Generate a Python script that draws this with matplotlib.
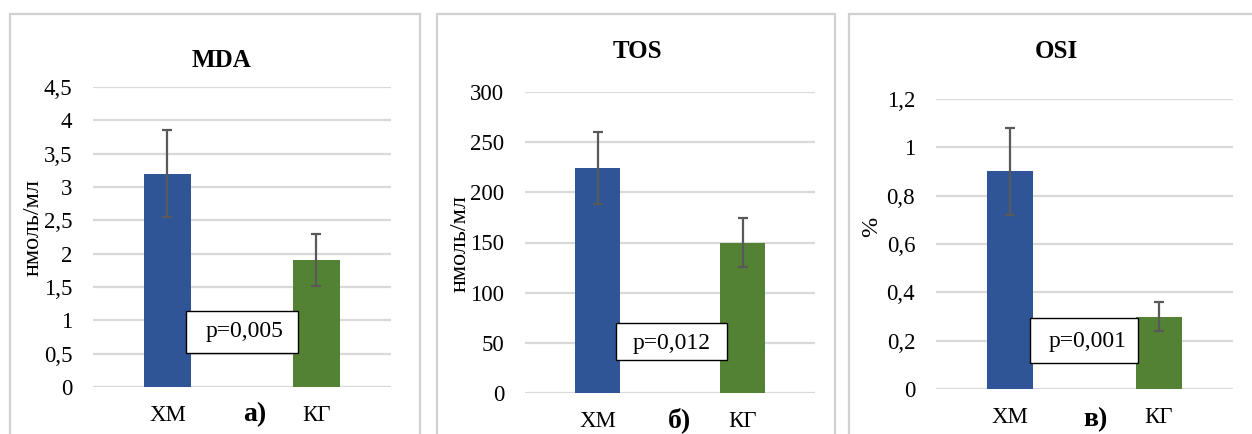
import matplotlib
matplotlib.use("Agg")
import matplotlib.pyplot as plt
from matplotlib.patches import Rectangle
from matplotlib.ticker import FuncFormatter, MultipleLocator

plt.rcParams['font.family'] = ['Liberation Serif', 'DejaVu Serif']

categories = ["ХМ", "КГ"]
titles = ["MDA", "TOS", "OSI"]
ylabels = ["нмоль/мл", "нмоль/мл", "%"]
letters = ["а)", "б)", "в)"]
p_texts = ["p=0,005", "p=0,012", "p=0,001"]

mda_values = [3.2, 1.9]
mda_errors = [0.65, 0.39]
tos_values = [224, 150]
tos_errors = [36, 24]
osi_values = [0.90, 0.30]
osi_errors = [0.18, 0.06]

values = [mda_values, tos_values, osi_values]
errors = [mda_errors, tos_errors, osi_errors]
ymax = [4.5, 300, 1.2]
ystep = [0.5, 50, 0.2]

W, H = 1252, 434
fig = plt.figure(figsize=(W / 100, H / 100), dpi=100)

def fx(px):
    return px / W

def fy(py):
    return 1 - py / H

# panel borders (pixels: left, right, top)
borders = [(10, 420, 14), (437, 835, 14), (849, 1262, 14)]
for (l, r, t) in borders:
    fig.patches.append(Rectangle((fx(l), fy(440)), fx(r - l), fy(t) - fy(440),
                                 transform=fig.transFigure, fill=False,
                                 edgecolor="#D0D0D0", lw=1.6, clip_on=False))

# axes in pixels: left, right, top(ymax), bottom(0)
axes_px = [(93, 391, 87, 387), (525, 815, 92, 393), (936, 1233, 99, 389)]
title_px = [(221, 60), (637, 51), (1056, 51)]
ylabel_px = [(33, 227), (460, 243), (872, 227)]
letter_px = [(255, 415), (680, 420), (1095, 420)]
box_px = [(186, 298, 311, 353), (616, 727, 323, 360), (1030, 1138, 318, 363)]
ptext_px = [(245, 332), (672, 343), (1088, 341)]

colors = ["#2F5597", "#548235"]

def fmt(v, pos):
    s = f"{round(v, 6):g}"
    return s.replace('.', ',')

for i in range(3):
    l, r, t, b = axes_px[i]
    ax = fig.add_axes([fx(l), fy(b), fx(r - l), fy(t) - fy(b)])
    x = [0, 1]
    ax.bar(x, values[i], width=0.31, color=colors, zorder=2)
    ax.errorbar(x, values[i], yerr=errors[i], fmt='none', ecolor="#595959",
                elinewidth=1.6, capsize=3.5, capthick=1.6, zorder=3)
    ax.set_xlim(-0.5, 1.5)
    ax.set_ylim(0, ymax[i])
    ax.yaxis.set_major_locator(MultipleLocator(ystep[i]))
    ax.yaxis.set_major_formatter(FuncFormatter(fmt))
    ax.grid(axis='y', color="#D9D9D9", lw=1.6, zorder=0)
    ax.set_axisbelow(True)
    for s in ax.spines.values():
        s.set_visible(False)
    ax.tick_params(axis='both', length=0, labelsize=16.5)
    ax.tick_params(axis='y', pad=15)
    ax.tick_params(axis='x', pad=13)
    ax.set_xticks(x)
    ax.set_xticklabels(categories)
    ax.set_facecolor("none")

    bl, br, bt, bb = box_px[i]
    fig.patches.append(Rectangle((fx(bl), fy(bb)), fx(br - bl), fy(bt) - fy(bb),
                                 transform=fig.transFigure, facecolor="white",
                                 edgecolor="black", lw=1.0, zorder=5))
    tx, ty = ptext_px[i]
    fig.text(fx(tx), fy(ty), p_texts[i], ha='center', va='center', fontsize=17, zorder=6)

    tx, ty = title_px[i]
    fig.text(fx(tx), fy(ty), titles[i], ha='center', va='center', fontsize=18, fontweight='bold')
    tx, ty = ylabel_px[i]
    fig.text(fx(tx), fy(ty), ylabels[i], ha='center', va='center', fontsize=17.5, rotation=90)
    tx, ty = letter_px[i]
    fig.text(fx(tx), fy(ty), letters[i], ha='center', va='center', fontsize=20, fontweight='bold')

fig.savefig("out.png", dpi=100, facecolor="white")
